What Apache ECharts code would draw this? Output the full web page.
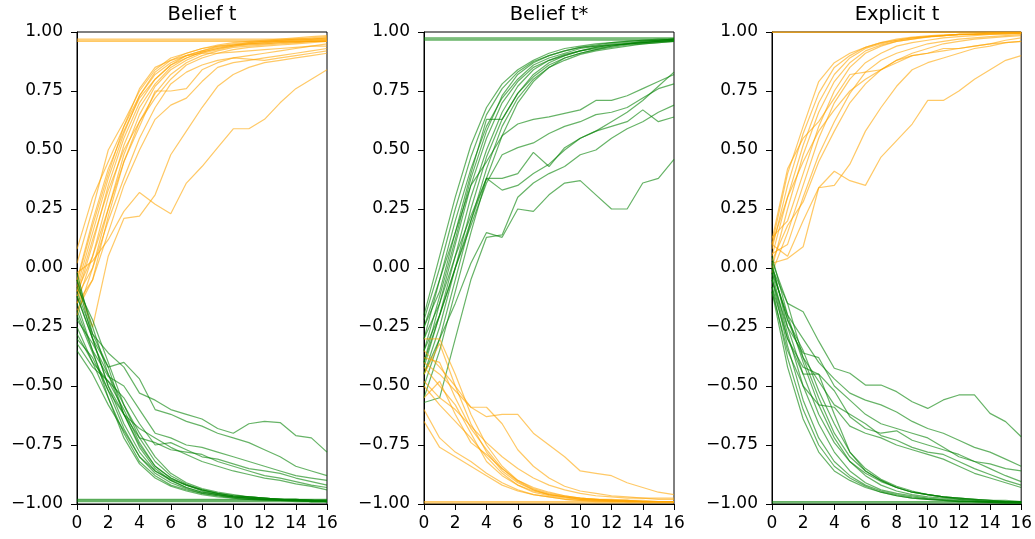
<!DOCTYPE html>
<html>
<head>
<meta charset="utf-8">
<script src="https://cdn.jsdelivr.net/npm/echarts@6/dist/echarts.min.js"></script>
<style>
html,body{margin:0;padding:0;background:#fff;}
#chart{width:1035px;height:539px;}
</style>
</head>
<body>
<div id="chart"></div>
<script>
// ---------------- DATA ----------------
const steps = [0,1,2,3,4,5,6,7,8,9,10,11,12,13,14,15,16];
const xTicks = [0,2,4,6,8,10,12,14,16];
const yTicks = [-1.00,-0.75,-0.50,-0.25,0.00,0.25,0.50,0.75,1.00];
const panelTitles = ["Belief t", "Belief t*", "Explicit t"];

// Panel 1: Belief t
const beliefT_orange = [
  [0.965,0.965,0.965,0.965,0.965,0.965,0.965,0.965,0.965,0.965,0.965,0.965,0.965,0.965,0.965,0.965,0.965],
  [0.96,0.96,0.96,0.96,0.96,0.96,0.96,0.96,0.96,0.96,0.96,0.96,0.96,0.96,0.96,0.96,0.96],
  [0.97,0.97,0.97,0.97,0.97,0.97,0.97,0.97,0.97,0.97,0.97,0.97,0.97,0.97,0.97,0.97,0.97],
  [0.08,0.30,0.45,0.60,0.73,0.82,0.87,0.90,0.92,0.935,0.945,0.955,0.96,0.965,0.97,0.975,0.98],
  [-0.05,0.20,0.42,0.58,0.72,0.80,0.86,0.89,0.915,0.93,0.945,0.95,0.955,0.96,0.965,0.97,0.975],
  [-0.12,0.10,0.35,0.55,0.70,0.80,0.86,0.90,0.92,0.94,0.95,0.955,0.96,0.965,0.97,0.97,0.975],
  [-0.15,0.05,0.30,0.52,0.68,0.78,0.85,0.89,0.915,0.93,0.94,0.95,0.955,0.96,0.96,0.965,0.97],
  [-0.08,0.15,0.38,0.57,0.73,0.83,0.88,0.91,0.93,0.945,0.955,0.96,0.965,0.97,0.975,0.98,0.985],
  [-0.20,0.00,0.25,0.48,0.65,0.77,0.84,0.88,0.91,0.925,0.94,0.945,0.95,0.955,0.96,0.96,0.965],
  [-0.10,0.12,0.33,0.50,0.62,0.74,0.82,0.87,0.90,0.92,0.935,0.94,0.945,0.95,0.955,0.96,0.96],
  [0.02,0.25,0.50,0.62,0.75,0.84,0.89,0.91,0.93,0.94,0.945,0.95,0.95,0.955,0.955,0.96,0.96],
  [-0.18,-0.05,0.22,0.45,0.62,0.72,0.80,0.86,0.89,0.91,0.925,0.935,0.94,0.945,0.95,0.955,0.96],
  [-0.06,0.18,0.40,0.60,0.76,0.85,0.88,0.90,0.91,0.91,0.915,0.92,0.925,0.93,0.935,0.94,0.94],
  [-0.10,0.05,0.25,0.45,0.60,0.75,0.75,0.76,0.84,0.87,0.89,0.90,0.91,0.92,0.93,0.94,0.95],
  [-0.15,-0.05,0.15,0.35,0.50,0.63,0.69,0.72,0.79,0.85,0.87,0.88,0.89,0.90,0.91,0.92,0.93],
  [-0.12,0.00,0.20,0.38,0.55,0.68,0.78,0.83,0.86,0.88,0.89,0.885,0.88,0.89,0.90,0.91,0.92],
  [-0.08,-0.25,0.05,0.21,0.22,0.31,0.48,0.58,0.68,0.77,0.82,0.85,0.87,0.88,0.89,0.90,0.91],
  [-0.02,0.03,0.12,0.24,0.32,0.27,0.23,0.36,0.43,0.51,0.59,0.59,0.63,0.70,0.76,0.80,0.84]
];
const beliefT_green = [
  [-0.985,-0.985,-0.985,-0.985,-0.985,-0.985,-0.985,-0.985,-0.985,-0.985,-0.985,-0.985,-0.985,-0.985,-0.985,-0.985,-0.985],
  [-0.98,-0.98,-0.98,-0.98,-0.98,-0.98,-0.98,-0.98,-0.98,-0.98,-0.98,-0.98,-0.98,-0.98,-0.98,-0.98,-0.98],
  [-0.99,-0.99,-0.99,-0.99,-0.99,-0.99,-0.99,-0.99,-0.99,-0.99,-0.99,-0.99,-0.99,-0.99,-0.99,-0.99,-0.99],
  [-0.05,-0.25,-0.45,-0.62,-0.75,-0.84,-0.89,-0.92,-0.94,-0.955,-0.965,-0.97,-0.975,-0.98,-0.98,-0.985,-0.985],
  [-0.12,-0.30,-0.50,-0.66,-0.78,-0.86,-0.90,-0.93,-0.95,-0.96,-0.97,-0.975,-0.98,-0.98,-0.985,-0.985,-0.99],
  [-0.20,-0.36,-0.52,-0.68,-0.80,-0.87,-0.91,-0.935,-0.955,-0.965,-0.97,-0.975,-0.98,-0.985,-0.985,-0.99,-0.99],
  [-0.28,-0.40,-0.55,-0.70,-0.82,-0.88,-0.92,-0.94,-0.955,-0.965,-0.975,-0.98,-0.98,-0.985,-0.985,-0.99,-0.99],
  [-0.08,-0.22,-0.40,-0.58,-0.72,-0.82,-0.88,-0.915,-0.94,-0.955,-0.965,-0.97,-0.975,-0.98,-0.985,-0.985,-0.99],
  [-0.32,-0.42,-0.48,-0.60,-0.74,-0.84,-0.89,-0.92,-0.945,-0.96,-0.97,-0.975,-0.98,-0.98,-0.985,-0.99,-0.99],
  [-0.15,-0.35,-0.55,-0.72,-0.83,-0.89,-0.925,-0.945,-0.96,-0.97,-0.975,-0.98,-0.985,-0.985,-0.99,-0.99,-0.99],
  [-0.22,-0.32,-0.45,-0.58,-0.70,-0.80,-0.87,-0.91,-0.935,-0.95,-0.96,-0.97,-0.975,-0.98,-0.98,-0.985,-0.985],
  [-0.02,-0.28,-0.42,-0.62,-0.76,-0.85,-0.90,-0.93,-0.95,-0.96,-0.97,-0.975,-0.98,-0.98,-0.985,-0.985,-0.99],
  [-0.35,-0.45,-0.58,-0.69,-0.80,-0.86,-0.895,-0.92,-0.94,-0.955,-0.965,-0.97,-0.975,-0.98,-0.98,-0.985,-0.985],
  [-0.10,-0.28,-0.36,-0.42,-0.53,-0.56,-0.60,-0.62,-0.64,-0.68,-0.70,-0.66,-0.65,-0.655,-0.71,-0.72,-0.78],
  [-0.05,-0.30,-0.42,-0.40,-0.47,-0.60,-0.62,-0.65,-0.67,-0.70,-0.72,-0.74,-0.77,-0.80,-0.84,-0.86,-0.88],
  [-0.18,-0.35,-0.46,-0.50,-0.60,-0.70,-0.72,-0.75,-0.76,-0.78,-0.80,-0.82,-0.84,-0.86,-0.88,-0.89,-0.90],
  [-0.25,-0.40,-0.48,-0.55,-0.66,-0.75,-0.74,-0.77,-0.80,-0.81,-0.83,-0.85,-0.86,-0.87,-0.89,-0.905,-0.92],
  [-0.12,-0.30,-0.50,-0.62,-0.72,-0.74,-0.77,-0.78,-0.79,-0.82,-0.84,-0.86,-0.88,-0.89,-0.905,-0.92,-0.93],
  [-0.30,-0.38,-0.52,-0.62,-0.68,-0.72,-0.76,-0.79,-0.82,-0.84,-0.86,-0.875,-0.89,-0.90,-0.915,-0.925,-0.94]
];

// Panel 2: Belief t*
const beliefTStar_green = [
  [0.97,0.97,0.97,0.97,0.97,0.97,0.97,0.97,0.97,0.97,0.97,0.97,0.97,0.97,0.97,0.97,0.97],
  [0.965,0.965,0.965,0.965,0.965,0.965,0.965,0.965,0.965,0.965,0.965,0.965,0.965,0.965,0.965,0.965,0.965],
  [0.975,0.975,0.975,0.975,0.975,0.975,0.975,0.975,0.975,0.975,0.975,0.975,0.975,0.975,0.975,0.975,0.975],
  [-0.20,0.05,0.30,0.52,0.68,0.78,0.84,0.88,0.91,0.93,0.94,0.95,0.955,0.96,0.965,0.97,0.97],
  [-0.30,-0.05,0.20,0.42,0.60,0.72,0.80,0.86,0.89,0.91,0.93,0.94,0.95,0.955,0.96,0.965,0.97],
  [-0.40,-0.15,0.10,0.35,0.55,0.70,0.79,0.85,0.88,0.905,0.92,0.935,0.945,0.95,0.955,0.96,0.965],
  [-0.45,-0.25,0.00,0.25,0.47,0.63,0.74,0.81,0.86,0.89,0.91,0.925,0.94,0.95,0.955,0.96,0.965],
  [-0.25,-0.10,0.15,0.40,0.63,0.63,0.74,0.82,0.87,0.90,0.92,0.935,0.945,0.95,0.96,0.965,0.97],
  [-0.50,-0.30,-0.05,0.20,0.42,0.60,0.72,0.80,0.85,0.88,0.905,0.92,0.93,0.94,0.95,0.955,0.96],
  [-0.35,-0.12,0.12,0.38,0.58,0.73,0.82,0.87,0.90,0.92,0.935,0.945,0.955,0.96,0.965,0.965,0.97],
  [-0.55,-0.35,-0.10,0.15,0.38,0.56,0.70,0.79,0.85,0.89,0.91,0.925,0.935,0.945,0.95,0.955,0.96],
  [-0.22,0.00,0.25,0.47,0.65,0.76,0.83,0.875,0.90,0.92,0.935,0.94,0.945,0.95,0.955,0.96,0.96],
  [-0.42,-0.20,0.05,0.30,0.50,0.66,0.77,0.84,0.88,0.90,0.92,0.93,0.94,0.95,0.955,0.96,0.965],
  [-0.45,-0.30,-0.15,0.02,0.15,0.13,0.25,0.24,0.31,0.36,0.37,0.31,0.25,0.25,0.36,0.38,0.46],
  [-0.57,-0.55,-0.30,-0.05,0.13,0.14,0.30,0.36,0.40,0.43,0.48,0.50,0.55,0.59,0.62,0.66,0.69],
  [-0.30,-0.15,0.05,0.22,0.38,0.33,0.35,0.40,0.44,0.50,0.55,0.58,0.60,0.62,0.67,0.62,0.64],
  [-0.35,-0.20,0.00,0.18,0.36,0.48,0.51,0.53,0.57,0.60,0.62,0.65,0.66,0.68,0.72,0.76,0.78],
  [-0.25,-0.05,0.15,0.35,0.45,0.56,0.61,0.63,0.64,0.655,0.67,0.71,0.71,0.73,0.76,0.79,0.82],
  [-0.40,-0.20,0.00,0.20,0.38,0.38,0.40,0.49,0.43,0.51,0.55,0.58,0.62,0.66,0.71,0.77,0.83]
];
const beliefTStar_orange = [
  [-0.99,-0.99,-0.99,-0.99,-0.99,-0.99,-0.99,-0.99,-0.99,-0.99,-0.99,-0.99,-0.99,-0.99,-0.99,-0.99,-0.99],
  [-0.995,-0.995,-0.995,-0.995,-0.995,-0.995,-0.995,-0.995,-0.995,-0.995,-0.995,-0.995,-0.995,-0.995,-0.995,-0.995,-0.995],
  [-0.40,-0.45,-0.52,-0.59,-0.63,-0.62,-0.62,-0.70,-0.75,-0.80,-0.86,-0.87,-0.88,-0.91,-0.93,-0.95,-0.96],
  [-0.35,-0.42,-0.50,-0.59,-0.59,-0.66,-0.77,-0.84,-0.89,-0.925,-0.945,-0.955,-0.965,-0.97,-0.975,-0.975,-0.975],
  [-0.30,-0.30,-0.45,-0.62,-0.75,-0.84,-0.90,-0.935,-0.955,-0.965,-0.975,-0.98,-0.985,-0.985,-0.99,-0.99,-0.99],
  [-0.45,-0.32,-0.50,-0.66,-0.78,-0.86,-0.91,-0.94,-0.96,-0.97,-0.98,-0.985,-0.985,-0.99,-0.99,-0.99,-0.99],
  [-0.50,-0.58,-0.65,-0.72,-0.80,-0.87,-0.92,-0.95,-0.965,-0.975,-0.98,-0.985,-0.985,-0.99,-0.99,-0.99,-0.99],
  [-0.60,-0.72,-0.78,-0.82,-0.87,-0.91,-0.94,-0.96,-0.97,-0.98,-0.985,-0.985,-0.99,-0.99,-0.99,-0.99,-0.99],
  [-0.65,-0.76,-0.80,-0.84,-0.88,-0.92,-0.945,-0.96,-0.97,-0.98,-0.985,-0.99,-0.99,-0.99,-0.99,-0.99,-0.99],
  [-0.42,-0.50,-0.58,-0.70,-0.82,-0.88,-0.92,-0.945,-0.96,-0.97,-0.98,-0.98,-0.985,-0.985,-0.99,-0.99,-0.99],
  [-0.55,-0.48,-0.62,-0.74,-0.79,-0.85,-0.90,-0.93,-0.95,-0.965,-0.975,-0.98,-0.985,-0.985,-0.99,-0.99,-0.99],
  [-0.38,-0.40,-0.55,-0.68,-0.77,-0.85,-0.905,-0.94,-0.96,-0.97,-0.975,-0.98,-0.98,-0.985,-0.985,-0.99,-0.99],
  [-0.48,-0.55,-0.60,-0.67,-0.74,-0.80,-0.85,-0.89,-0.92,-0.94,-0.955,-0.965,-0.97,-0.975,-0.975,-0.98,-0.98]
];

// Panel 3: Explicit t
const explicitT_orange = [
  [1.0,1.0,1.0,1.0,1.0,1.0,1.0,1.0,1.0,1.0,1.0,1.0,1.0,1.0,1.0,1.0,1.0],
  [0.998,0.998,0.998,0.998,0.998,0.998,0.998,0.998,0.998,0.998,0.998,0.998,0.998,0.998,0.998,0.998,0.998],
  [0.02,0.04,0.09,0.34,0.41,0.37,0.35,0.47,0.54,0.61,0.71,0.71,0.75,0.80,0.84,0.88,0.90],
  [0.10,0.05,0.20,0.34,0.35,0.44,0.58,0.68,0.77,0.84,0.87,0.89,0.91,0.93,0.94,0.955,0.96],
  [0.12,0.42,0.55,0.62,0.72,0.82,0.83,0.84,0.88,0.91,0.93,0.95,0.96,0.97,0.975,0.98,0.985],
  [0.10,0.40,0.60,0.79,0.87,0.91,0.935,0.955,0.965,0.975,0.98,0.985,0.99,0.99,0.995,0.995,0.995],
  [0.05,0.30,0.52,0.70,0.82,0.89,0.93,0.95,0.965,0.975,0.98,0.985,0.99,0.99,0.995,0.995,0.995],
  [0.00,0.25,0.48,0.66,0.79,0.87,0.92,0.945,0.96,0.97,0.98,0.985,0.99,0.99,0.99,0.995,0.995],
  [0.08,0.35,0.57,0.74,0.85,0.90,0.935,0.955,0.97,0.978,0.984,0.988,0.99,0.993,0.995,0.996,0.997],
  [0.13,0.20,0.40,0.60,0.75,0.85,0.91,0.94,0.96,0.97,0.978,0.984,0.988,0.99,0.993,0.995,0.996],
  [-0.02,0.15,0.35,0.55,0.70,0.80,0.87,0.91,0.94,0.955,0.965,0.975,0.98,0.985,0.99,0.99,0.995],
  [0.06,0.10,0.30,0.48,0.62,0.74,0.83,0.88,0.91,0.93,0.95,0.96,0.97,0.975,0.98,0.985,0.99],
  [0.03,0.18,0.28,0.45,0.58,0.70,0.78,0.84,0.88,0.90,0.91,0.93,0.93,0.94,0.95,0.955,0.96],
  [0.10,0.30,0.45,0.58,0.67,0.75,0.80,0.84,0.87,0.90,0.91,0.92,0.93,0.94,0.95,0.965,0.975]
];
const explicitT_green = [
  [-0.995,-0.995,-0.995,-0.995,-0.995,-0.995,-0.995,-0.995,-0.995,-0.995,-0.995,-0.995,-0.995,-0.995,-0.995,-0.995,-0.995],
  [-0.99,-0.99,-0.99,-0.99,-0.99,-0.99,-0.99,-0.99,-0.99,-0.99,-0.99,-0.99,-0.99,-0.99,-0.99,-0.99,-0.99],
  [0.00,-0.15,-0.185,-0.31,-0.425,-0.446,-0.496,-0.496,-0.524,-0.567,-0.595,-0.559,-0.538,-0.538,-0.616,-0.651,-0.715],
  [-0.02,-0.20,-0.30,-0.40,-0.47,-0.53,-0.56,-0.58,-0.61,-0.65,-0.68,-0.70,-0.73,-0.76,-0.78,-0.81,-0.84],
  [-0.05,-0.25,-0.36,-0.38,-0.50,-0.56,-0.62,-0.66,-0.68,-0.70,-0.72,-0.76,-0.80,-0.82,-0.83,-0.85,-0.86],
  [-0.08,-0.30,-0.45,-0.45,-0.52,-0.63,-0.68,-0.70,-0.69,-0.73,-0.75,-0.77,-0.79,-0.82,-0.85,-0.88,-0.905],
  [0.00,-0.22,-0.38,-0.48,-0.58,-0.62,-0.66,-0.71,-0.73,-0.76,-0.78,-0.79,-0.82,-0.85,-0.875,-0.90,-0.92],
  [-0.10,-0.35,-0.50,-0.58,-0.59,-0.67,-0.70,-0.72,-0.75,-0.77,-0.79,-0.81,-0.84,-0.87,-0.89,-0.91,-0.93],
  [0.05,-0.20,-0.40,-0.58,-0.72,-0.82,-0.88,-0.92,-0.945,-0.96,-0.97,-0.975,-0.98,-0.985,-0.99,-0.99,-0.99],
  [-0.02,-0.28,-0.50,-0.66,-0.78,-0.86,-0.91,-0.94,-0.955,-0.965,-0.975,-0.98,-0.985,-0.99,-0.99,-0.99,-0.995],
  [-0.05,-0.33,-0.56,-0.72,-0.82,-0.88,-0.92,-0.945,-0.96,-0.97,-0.978,-0.983,-0.987,-0.99,-0.992,-0.994,-0.995],
  [-0.08,-0.38,-0.60,-0.75,-0.84,-0.89,-0.925,-0.95,-0.965,-0.975,-0.98,-0.985,-0.99,-0.99,-0.993,-0.995,-0.995],
  [0.02,-0.25,-0.45,-0.62,-0.74,-0.82,-0.87,-0.905,-0.93,-0.95,-0.96,-0.97,-0.975,-0.98,-0.985,-0.99,-0.99],
  [-0.10,-0.42,-0.64,-0.78,-0.86,-0.90,-0.93,-0.95,-0.965,-0.975,-0.98,-0.985,-0.99,-0.99,-0.993,-0.995,-0.995],
  [0.00,-0.22,-0.35,-0.52,-0.66,-0.78,-0.86,-0.90,-0.93,-0.95,-0.96,-0.97,-0.98,-0.985,-0.99,-0.99,-0.99],
  [-0.04,-0.30,-0.42,-0.45,-0.62,-0.78,-0.85,-0.895,-0.925,-0.945,-0.96,-0.97,-0.975,-0.98,-0.985,-0.99,-0.99],
  [0.03,-0.15,-0.38,-0.55,-0.70,-0.80,-0.86,-0.90,-0.93,-0.95,-0.96,-0.97,-0.975,-0.98,-0.985,-0.985,-0.99]
];

// ---------------- CHART ----------------
const ORANGE = '#FFA500';
const GREEN = '#008000';
const panels = [
  {groups: [[beliefT_orange, ORANGE], [beliefT_green, GREEN]]},
  {groups: [[beliefTStar_green, GREEN], [beliefTStar_orange, ORANGE]]},
  {groups: [[explicitT_orange, ORANGE], [explicitT_green, GREEN]]}
];
const gridLefts = [77, 424, 772];
const gridW = 250, gridTop = 32, gridH = 472;
const FONT = 'DejaVu Sans';
const TICK_FS = 17;

const fmtY = v => (v < 0 ? '\u2212' : '') + Math.abs(v).toFixed(2);

const grids = [], xAxes = [], yAxes = [], graphics = [], series = [];
gridLefts.forEach((left, p) => {
  grids.push({left: left, top: gridTop, width: gridW, height: gridH,
    show: true, borderColor: '#000', borderWidth: 1, backgroundColor: 'rgba(0,0,0,0)', containLabel: false});
  xAxes.push({type: 'value', gridIndex: p, min: 0, max: 16, interval: 2,
    axisLine: {show: true, onZero: false, lineStyle: {color: '#000', width: 1}},
    axisTick: {show: true, inside: false, length: 6, lineStyle: {color: '#000'}},
    axisLabel: {show: true, color: '#000', fontSize: TICK_FS, fontFamily: FONT, margin: 11,
      formatter: v => xTicks.includes(v) ? String(v) : ''},
    splitLine: {show: false}});
  yAxes.push({type: 'value', gridIndex: p, min: -1, max: 1, interval: 0.25,
    axisLine: {show: true, onZero: false, lineStyle: {color: '#000', width: 1}},
    axisTick: {show: true, inside: false, length: 6, lineStyle: {color: '#000'}},
    axisLabel: {show: true, color: '#000', fontSize: TICK_FS, fontFamily: FONT, margin: 14,
      formatter: v => yTicks.some(t => Math.abs(t - v) < 1e-9) ? fmtY(v) : ''},
    splitLine: {show: false}});
  graphics.push({type: 'text', x: left + gridW / 2, y: 15, silent: true,
    style: {text: panelTitles[p], fill: '#000', font: '19.5px "DejaVu Sans"',
      textAlign: 'center', textVerticalAlign: 'middle', align: 'center', verticalAlign: 'middle'}});
  panels[p].groups.forEach(([lines, color]) => {
    lines.forEach(vals => {
      series.push({type: 'line', xAxisIndex: p, yAxisIndex: p,
        data: steps.map((x, i) => [x, vals[i]]),
        symbol: 'none', showSymbol: false, silent: true, clip: false,
        lineStyle: {color: color, width: 1.2, opacity: 0.6}});
    });
  });
});

const chart = echarts.init(document.getElementById('chart'), null, {renderer: 'canvas'});
chart.setOption({
  animation: false,
  backgroundColor: '#fff',
  graphic: graphics,
  grid: grids,
  xAxis: xAxes,
  yAxis: yAxes,
  series: series
});
</script>
</body>
</html>
